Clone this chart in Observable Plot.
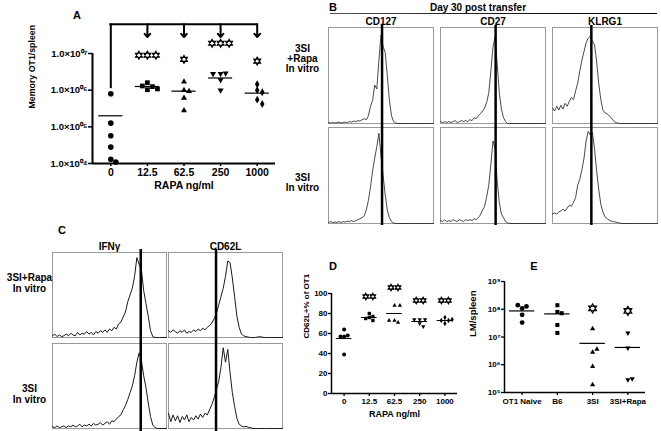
<!DOCTYPE html>
<html><head><meta charset="utf-8">
<script src="https://cdn.jsdelivr.net/npm/d3@7"></script>
<script src="https://cdn.jsdelivr.net/npm/@observablehq/plot@0.6"></script>
<style>
html,body{margin:0;padding:0;background:#fff;}
#fig{position:relative;width:661px;height:431px;overflow:hidden;background:#fff;font-family:"Liberation Sans",Arial,sans-serif;font-weight:bold;color:#000;}
.lbl{position:absolute;transform:translate(-50%,-50%);white-space:nowrap;line-height:1;}
</style></head><body><div id="fig"></div>
<script>
// ---------------- Panel A : memory OT1 per spleen ----------------
const catsA = ["0", "12.5", "62.5", "250", "1000"];
const memA_0 = [8.0e5, 1.26e5, 5.7e4, 2.8e4, 1.3e4, 1.1e4];
const memA_12 = [1.6e6, 1.03e6, 1.25e6, 1.3e6, 1.08e6];
const memA_62 = [1.7e6, 1.0e6, 9.4e5, 6.1e5, 2.8e5];
const memA_250 = [1.9e6, 1.0e6, 2.8e6, 2.9e6, 2.8e6];
const memA_1000 = [1.45e6, 1.0e6, 8.8e5, 5.5e5, 4.2e5];
const meanA = [2.0e5, 1.26e6, 9.4e5, 2.15e6, 8.3e5];
const yTicksA = [1e4, 1e5, 1e6, 1e7];
const starCatsA = ["12.5", "62.5", "250", "1000"];
const starCountA = [3, 1, 3, 1];
const starLevelA = [9.0e6, 6.9e6, 1.9e7, 6.2e6];
const bracketTopA = 6.3e7, bracketStemA = 1.1e6, arrowTipA = 2.8e7;

// ---------------- Panel B : histograms ----------------
const markersB = ["CD127", "CD27", "KLRG1"];
const condsB = ["3SI\n+Rapa\nIn vitro", "3SI\nIn vitro"];
const gatesB = [51, 52.5, 37];
const z18 = new Array(18).fill(0), z19 = new Array(19).fill(0);
const b_rapa_CD127 = [1,0.5,1,0.5,1,1.5,0.5,1,1.5,1,2,1.5,2.5,2,3,2.5,4,5,4,8,18,24,40,36,66,92,80,74,50,24,8,2,0.5, ...z18];
const b_rapa_CD27 = [2,1,2,1,2,1,2,3,1,2,3,2,3,2,4,3,6,5,8,10,13,16,22,32,55,80,90,62,32,15,6,2,0, ...z18];
const b_rapa_KLRG1 = [16,13,18,14,19,15,21,18,23,27,25,34,42,55,66,75,84,89,91,86,82,65,42,25,14,11,10,8,6,3,1,0.5, ...z19];
const b_3si_CD127 = [1,2,1,1.5,1,2,1,2,1.5,2.5,2,3,2,3,4,5,6,8,14,24,38,55,68,80,94,70,50,30,14,6,2,0.5, ...z19];
const b_3si_CD27 = [3,2,4,2,3,2,4,3,2,4,3,2,4,3,4,3,5,4,6,9,14,18,28,40,62,86,78,44,22,10,6,2,0.5, ...z18];
const b_3si_KLRG1 = [10,11,10,12,13,15,13,16,19,18,22,27,40,46,56,68,86,96,92,95,78,55,36,20,12,7,5,3.5,2.5,2,1.5,1,0.5, ...z18];

// ---------------- Panel C : histograms ----------------
const markersC = ["IFNγ", "CD62L"];
const condsC = ["3SI+Rapa\nIn vitro", "3SI\nIn vitro"];
const gatesC = [77.4, 41.7];
const c_rapa_IFNg = [2,4,1,3,1,2,4,2,5,3,2,6,3,5,4,7,4,6,3,7,5,8,6,9,6,10,8,12,10,16,18,24,30,42,50,58,72,94,86,80,55,40,25,8,1,0,0,0,0,0,0];
const c_3si_IFNg = [2,1,3,1,2,3,1,3,2,4,2,3,5,2,4,3,5,3,6,4,5,7,4,6,8,5,9,8,11,14,16,22,27,34,42,50,62,78,89,80,62,48,30,14,4,1,0,0,0,0,0];
const c_rapa_CD62L = [8,6,9,7,5,8,6,9,5,7,6,9,7,10,8,11,9,12,14,17,22,28,38,48,58,72,90,88,70,48,25,12,4,2,1,0.5,0,0,0,0.5,1,0.5,0,0,0,0,0,0,0,0,0];
const c_3si_CD62L = [18,8,16,9,15,7,14,10,16,8,13,10,15,11,17,13,18,16,22,28,36,46,55,72,95,78,93,66,42,26,12,5,3,2,2.5,1.5,1,0,0,0,0,0,0,0,0,0,0,0,0,0,0];
const histX = d3.range(0, 101, 2);

// ---------------- Panel D : CD62L+ % ----------------
const catsD = ["0", "12.5", "62.5", "250", "1000"];
const pctD_0 = [64, 57, 57, 58, 39];
const pctD_12 = [80, 76, 73, 77, 75];
const pctD_62 = [88, 88, 73, 71, 73];
const pctD_250 = [74, 74, 74, 70, 67];
const pctD_1000 = [76, 73, 73, 74, 70];
const meanD = [55, 76, 80, 72, 73];
const yTicksD = [0, 20, 40, 60, 80, 100];
const starCatsD = ["12.5", "62.5", "250", "1000"];
const starCountD = [2, 2, 2, 2];
const starLevelD = [97, 106, 93, 93];

// ---------------- Panel E : LM per spleen ----------------
const catsE = ["OT1 Naive", "B6", "3SI", "3SI+Rapa"];
const lmE_naive = [1.07e8, 1.26e8, 1.4e8, 6.3e7, 3.3e7];
const lmE_b6 = [1.4e8, 8.0e7, 7.2e7, 2.7e7, 1.4e7];
const lmE_3si = [2.0e7, 2.8e6, 3.6e6, 8.7e5, 1.9e5];
const lmE_rapa = [1.4e7, 4.0e6, 2.9e5, 3.1e5];
const meanE = [8.7e7, 6.8e7, 5.9e6, 4.2e6];
const yTicksE = [1e5, 1e6, 1e7, 1e8, 1e9];
const starCatsE = ["3SI", "3SI+Rapa"];
const starCountE = [1, 1];
const starLevelE = [1.07e8, 8.7e7];

// ---------------- helpers ----------------
const FONT = "'Liberation Sans', Arial, sans-serif";
const fig = document.getElementById("fig");
function place(el, left, top) { el.style.position = "absolute"; el.style.left = left + "px"; el.style.top = top + "px"; fig.appendChild(el); }
function label(text, x, y, size) { const d = document.createElement("div"); d.className = "lbl"; d.textContent = text; d.style.left = x + "px"; d.style.top = y + "px"; d.style.fontSize = size + "px"; fig.appendChild(d); }
const SUP = {"0":"⁰","1":"¹","2":"²","3":"³","4":"⁴","5":"⁵","6":"⁶","7":"⁷","8":"⁸","9":"⁹"};
const sup = s => String(s).split("").map(c => SUP[c]).join("");
const expOf = v => Math.round(Math.log10(v));
const triangleDown = {draw(context, size) {
  const y = -Math.sqrt(size / (Math.sqrt(3) * 3));
  context.moveTo(0, -y * 2);
  context.lineTo(-Math.sqrt(3) * y, y);
  context.lineTo(Math.sqrt(3) * y, y);
  context.closePath();
}};
// outlined six-pointed star (two interlaced triangles), as used for significance
const hexagram = {draw(context, size) {
  const R = Math.sqrt(size / Math.PI);
  for (const rot of [-Math.PI / 2, Math.PI / 2]) {
    for (let k = 0; k < 3; ++k) {
      const a = rot + k * 2 * Math.PI / 3;
      const px = R * Math.cos(a), py = R * Math.sin(a);
      if (k) context.lineTo(px, py); else context.moveTo(px, py);
    }
    context.closePath();
  }
}};
// GraphPad-like scatter: spread overlapping points sideways around the category
function swarm(options, r) {
  return Plot.initializer(options, function (data, facets, channels, scales) {
    const X = Float64Array.from(channels.x.value, v => scales.x(v));
    const Y = Float64Array.from(channels.y.value, v => scales.y(v));
    for (const index of facets) {
      const placed = [];
      for (const i of index) {
        const x0 = X[i];
        for (let k = 0; k < 41; ++k) {
          const off = (k % 2 ? 1 : -1) * Math.ceil(k / 2) * r * 0.9;
          if (placed.every(j => Math.hypot(x0 + off - X[j], Y[i] - Y[j]) >= 1.8 * r)) { X[i] = x0 + off; break; }
        }
        placed.push(i);
      }
    }
    return {data, facets, channels: {x: {value: X}, y: {value: Y}}};
  });
}
const svgStyle = size => ({fontFamily: FONT, fontWeight: "bold", fontSize: size + "px", background: "transparent", overflow: "visible", color: "black"});
const symbols5 = ["circle", "square", "triangle", triangleDown, "diamond"];
const symbolScale = [1, 0.95, 0.8, 0.8, 0.85];

function scatterMarks(groups, means, r, halfLen, meanWidth) {
  return [
    ...groups.map((vals, i) => Plot.dot(vals, swarm({x: () => i, y: d => d, symbol: symbols5[i], r: r * symbolScale[i], fill: "black"}, r))),
    Plot.ruleY(means, {y: d => d, x1: (d, i) => i - halfLen, x2: (d, i) => i + halfLen, stroke: "black", strokeWidth: meanWidth})
  ];
}
function starMarks(cats, starCats, counts, levels, R, spacing) {
  return starCats.flatMap((c, i) => d3.range(counts[i]).map(k =>
    Plot.dot([levels[i]], {x: () => cats.indexOf(c), y: d => d, dx: (k - (counts[i] - 1) / 2) * spacing,
      symbol: hexagram, r: R, fill: "white", stroke: "black", strokeWidth: 1.1})));
}

// ---------------- Panel A ----------------
const xDomA = [-0.5, catsA.length - 0.5];
const plotA = Plot.plot({
  width: 280, height: 200, marginLeft: 92, marginRight: 5, marginTop: 53, marginBottom: 37,
  style: svgStyle(10.5),
  x: {domain: xDomA},
  y: {type: "log", domain: [yTicksA[0], yTicksA[yTicksA.length - 1]]},
  marks: [
    Plot.axisY({ticks: yTicksA, tickFormat: v => "1.0×10" + sup("0" + expOf(v)), tickSize: 4, tickPadding: 1, strokeWidth: 1.5, label: null, fontSize: 9.5}),
    Plot.axisX({ticks: catsA.map((c, i) => i), tickFormat: i => catsA[i], tickSize: 3, tickPadding: 2, strokeWidth: 1.5, label: null}),
    Plot.ruleX([xDomA[0]], {strokeWidth: 2}),
    Plot.ruleY([yTicksA[0]], {strokeWidth: 2}),
    ...scatterMarks([memA_0, memA_12, memA_62, memA_250, memA_1000], meanA, 2.8, 0.33, 1.2),
    Plot.ruleY([bracketTopA], {x1: 0, x2: catsA.length - 1, strokeWidth: 2, strokeLinecap: "square"}),
    Plot.ruleX([0], {x: d => d, y1: bracketTopA, y2: bracketStemA, strokeWidth: 2}),
    Plot.arrow(catsA.slice(1), {x1: c => catsA.indexOf(c), x2: c => catsA.indexOf(c), y1: () => bracketTopA, y2: () => arrowTipA, stroke: "black", strokeWidth: 2, headLength: 7, headAngle: 80}),
    ...starMarks(catsA, starCatsA, starCountA, starLevelA, 4, 8.5),
    Plot.text(["Memory OT1/spleen"], {text: d => d, frameAnchor: "left", dx: -60, rotate: -90, fontSize: 8.8}),
    Plot.text(["RAPA ng/ml"], {text: d => d, frameAnchor: "bottom", dy: 25, fontSize: 10.5})
  ]
});
place(plotA, 0, 0);

// ---------------- histogram panel builder ----------------
function histPanel(markers, conds, hists, gates, o) {
  const rows = conds.flatMap((c, k) => markers.flatMap((m, j) => hists[k][j].map((v, i) => ({marker: m, cond: c, x: histX[i], y: v}))));
  return Plot.plot({
    width: o.width, height: o.height, marginLeft: o.ml, marginRight: o.mr, marginTop: o.mt, marginBottom: o.mb,
    style: svgStyle(10),
    x: {domain: [0, 100], axis: null},
    y: {domain: [0, 100], axis: null},
    fx: {domain: markers, paddingInner: o.px, paddingOuter: 0},
    fy: {domain: conds, paddingInner: o.py, paddingOuter: 0, axis: null},
    marks: [
      Plot.frame({stroke: "#9a9a9a", strokeWidth: 1}),
      Plot.line(rows, {x: "x", y: "y", fx: "marker", fy: "cond", stroke: "#1a1a1a", strokeWidth: o.lw, strokeLinejoin: "round"}),
      Plot.ruleX(gates, {x: d => d, fx: (d, i) => markers[i], stroke: "black", strokeWidth: 2.5, insetTop: -o.gap, insetBottom: -o.gap}),
      Plot.axisFx({anchor: "top", tickSize: 0, tickPadding: o.hp, label: null}),
      Plot.text([conds[0]], {fx: () => markers[0], fy: d => d, text: d => d, frameAnchor: "left", dx: o.rdx, dy: o.rdy[0], textAnchor: "middle", lineHeight: o.lh}),
      Plot.text([conds[1]], {fx: () => markers[0], fy: d => d, text: d => d, frameAnchor: "left", dx: o.rdx, dy: o.rdy[1], textAnchor: "middle", lineHeight: o.lh})
    ]
  });
}

// ---------------- Panel B ----------------
const plotB = histPanel(markersB, condsB,
  [[b_rapa_CD127, b_rapa_CD27, b_rapa_KLRG1], [b_3si_CD127, b_3si_CD27, b_3si_KLRG1]], gatesB,
  {width: 381, height: 226, ml: 48, mr: 4, mt: 27, mb: 3, px: 0.065, py: 0.04, lw: 0.8, gap: 2, hp: 3, rdx: -26, rdy: [-17, 7.5], lh: 1.0});
place(plotB, 280, 0);

// ---------------- Panel C ----------------
const plotC = histPanel(markersC, condsC,
  [[c_rapa_IFNg, c_rapa_CD62L], [c_3si_IFNg, c_3si_CD62L]], gatesC,
  {width: 290, height: 201, ml: 51, mr: 7, mt: 22, mb: 3, px: 0.017, py: 0.066, lw: 1, gap: 3, hp: 3, rdx: -23, rdy: [-12, 8], lh: 1.1});
place(plotC, 0, 230);

// ---------------- Panel D ----------------
const xDomD = [-0.5, catsD.length - 0.5];
const plotD = Plot.plot({
  width: 180, height: 171, marginLeft: 51, marginRight: 3, marginTop: 33, marginBottom: 38,
  style: svgStyle(8),
  x: {domain: xDomD},
  y: {domain: [yTicksD[0], yTicksD[yTicksD.length - 1]]},
  marks: [
    Plot.axisY({ticks: yTicksD, tickSize: 3, tickPadding: 1, strokeWidth: 1.3, label: null}),
    Plot.axisX({ticks: catsD.map((c, i) => i), tickFormat: i => catsD[i], tickSize: 3, tickPadding: 2, strokeWidth: 1.3, label: null}),
    Plot.ruleX([xDomD[0]], {strokeWidth: 1.5}),
    Plot.ruleY([yTicksD[0]], {strokeWidth: 1.5}),
    ...scatterMarks([pctD_0, pctD_12, pctD_62, pctD_250, pctD_1000], meanD, 2, 0.31, 1),
    ...starMarks(catsD, starCatsD, starCountD, starLevelD, 3.3, 7),
    Plot.text(["CD62L+% of OT1"], {text: d => d, frameAnchor: "left", dx: -25, dy: -5, rotate: -90, fontSize: 8}),
    Plot.text(["RAPA ng/ml"], {text: d => d, frameAnchor: "bottom", dy: 23, fontSize: 9})
  ]
});
place(plotD, 280, 260);

// ---------------- Panel E ----------------
const xDomE = [-0.5, catsE.length - 0.5];
const plotE = Plot.plot({
  width: 201, height: 171, marginLeft: 44, marginRight: 16, marginTop: 21, marginBottom: 39,
  style: svgStyle(8),
  x: {domain: xDomE},
  y: {type: "log", domain: [yTicksE[0], yTicksE[yTicksE.length - 1]]},
  marks: [
    Plot.axisY({ticks: yTicksE, tickFormat: v => "10" + sup(expOf(v)), tickSize: 3, tickPadding: 1, strokeWidth: 1.3, label: null}),
    Plot.axisX({ticks: catsE.map((c, i) => i), tickFormat: i => catsE[i], tickSize: 3, tickPadding: 3, strokeWidth: 1.3, label: null}),
    Plot.ruleX([xDomE[0]], {strokeWidth: 1.5}),
    Plot.ruleY([yTicksE[0]], {strokeWidth: 1.5}),
    ...scatterMarks([lmE_naive, lmE_b6, lmE_3si, lmE_rapa], meanE, 2.4, 0.36, 1.2),
    ...starMarks(catsE, starCatsE, starCountE, starLevelE, 4.6, 0),
    Plot.text(["LM/spleen"], {text: d => d, frameAnchor: "left", dx: -32, rotate: -90, fontSize: 9.5})
  ]
});
place(plotE, 460, 260);

// ---------------- panel letters and titles ----------------
label("A", 77, 15, 11);
label("B", 333, 7, 11);
label("Day 30 post transfer", 478, 8, 10);
label("C", 62, 230, 11);
label("D", 333, 266, 11);
label("E", 534, 266, 11);
const rule = document.createElement("div");
rule.style.cssText = "position:absolute;left:330px;top:13px;width:327px;height:1.3px;background:linear-gradient(90deg,#555,#222 40%,#000);";
fig.appendChild(rule);
</script></body></html>
